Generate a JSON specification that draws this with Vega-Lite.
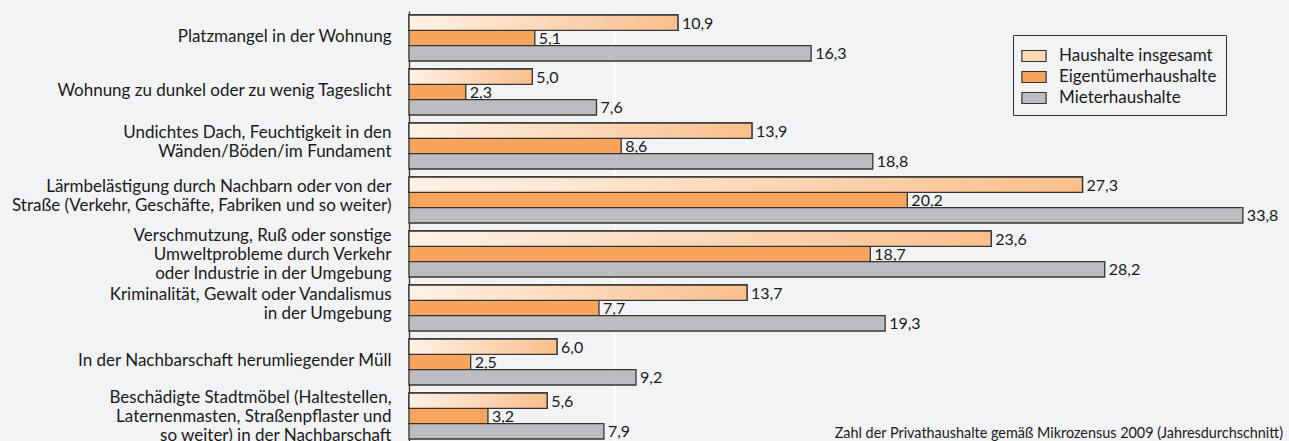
{
  "$schema": "https://vega.github.io/schema/vega-lite/v6.json",
  "autosize": "none",
  "width": 880,
  "height": 432,
  "padding": {"left": 409, "top": 11, "right": 0, "bottom": 0},
  "background": "#f2f3f5",
  "title": {
    "text": "Zahl der Privathaushalte gemäß Mikrozensus 2009 (Jahresdurchschnitt)",
    "orient": "bottom",
    "anchor": "end",
    "frame": "group",
    "offset": -17,
    "dx": -6,
    "font": "Lato",
    "fontSize": 14.4,
    "fontWeight": "normal",
    "color": "#1a1a1a"
  },
  "data": {
    "values": [
      {"cat": "Platzmangel in der Wohnung", "s": "Haushalte insgesamt", "v": 10.9},
      {"cat": "Platzmangel in der Wohnung", "s": "Eigentümerhaushalte", "v": 5.1},
      {"cat": "Platzmangel in der Wohnung", "s": "Mieterhaushalte", "v": 16.3},
      {"cat": "Wohnung zu dunkel oder zu wenig Tageslicht", "s": "Haushalte insgesamt", "v": 5.0},
      {"cat": "Wohnung zu dunkel oder zu wenig Tageslicht", "s": "Eigentümerhaushalte", "v": 2.3},
      {"cat": "Wohnung zu dunkel oder zu wenig Tageslicht", "s": "Mieterhaushalte", "v": 7.6},
      {"cat": "Undichtes Dach, Feuchtigkeit in den|Wänden/Böden/im Fundament", "s": "Haushalte insgesamt", "v": 13.9},
      {"cat": "Undichtes Dach, Feuchtigkeit in den|Wänden/Böden/im Fundament", "s": "Eigentümerhaushalte", "v": 8.6},
      {"cat": "Undichtes Dach, Feuchtigkeit in den|Wänden/Böden/im Fundament", "s": "Mieterhaushalte", "v": 18.8},
      {"cat": "Lärmbelästigung durch Nachbarn oder von der|Straße (Verkehr, Geschäfte, Fabriken und so weiter)", "s": "Haushalte insgesamt", "v": 27.3},
      {"cat": "Lärmbelästigung durch Nachbarn oder von der|Straße (Verkehr, Geschäfte, Fabriken und so weiter)", "s": "Eigentümerhaushalte", "v": 20.2},
      {"cat": "Lärmbelästigung durch Nachbarn oder von der|Straße (Verkehr, Geschäfte, Fabriken und so weiter)", "s": "Mieterhaushalte", "v": 33.8},
      {"cat": "Verschmutzung, Ruß oder sonstige|Umweltprobleme durch Verkehr|oder Industrie in der Umgebung", "s": "Haushalte insgesamt", "v": 23.6},
      {"cat": "Verschmutzung, Ruß oder sonstige|Umweltprobleme durch Verkehr|oder Industrie in der Umgebung", "s": "Eigentümerhaushalte", "v": 18.7},
      {"cat": "Verschmutzung, Ruß oder sonstige|Umweltprobleme durch Verkehr|oder Industrie in der Umgebung", "s": "Mieterhaushalte", "v": 28.2},
      {"cat": "Kriminalität, Gewalt oder Vandalismus|in der Umgebung", "s": "Haushalte insgesamt", "v": 13.7},
      {"cat": "Kriminalität, Gewalt oder Vandalismus|in der Umgebung", "s": "Eigentümerhaushalte", "v": 7.7},
      {"cat": "Kriminalität, Gewalt oder Vandalismus|in der Umgebung", "s": "Mieterhaushalte", "v": 19.3},
      {"cat": "In der Nachbarschaft herumliegender Müll", "s": "Haushalte insgesamt", "v": 6.0},
      {"cat": "In der Nachbarschaft herumliegender Müll", "s": "Eigentümerhaushalte", "v": 2.5},
      {"cat": "In der Nachbarschaft herumliegender Müll", "s": "Mieterhaushalte", "v": 9.2},
      {"cat": "Beschädigte Stadtmöbel (Haltestellen,|Laternenmasten, Straßenpflaster und|so weiter) in der Nachbarschaft", "s": "Haushalte insgesamt", "v": 5.6},
      {"cat": "Beschädigte Stadtmöbel (Haltestellen,|Laternenmasten, Straßenpflaster und|so weiter) in der Nachbarschaft", "s": "Eigentümerhaushalte", "v": 3.2},
      {"cat": "Beschädigte Stadtmöbel (Haltestellen,|Laternenmasten, Straßenpflaster und|so weiter) in der Nachbarschaft", "s": "Mieterhaushalte", "v": 7.9}
    ]
  },
  "transform": [
    {"calculate": "replace(format(datum.v, '.1f'), '.', ',')", "as": "lbl"}
  ],
  "encoding": {
    "y": {
      "field": "cat",
      "type": "nominal",
      "sort": null,
      "scale": {"paddingInner": 0.148, "paddingOuter": 0.074},
      "axis": {
        "title": null,
        "domainColor": "#333333",
        "domainWidth": 1.3,
        "ticks": false,
        "labelExpr": "split(datum.label, '|')",
        "labelFont": "Lato",
        "labelFontSize": 17,
        "labelColor": "#1a1a1a",
        "labelLineHeight": 19,
        "labelPadding": 18,
        "labelLimit": 0,
        "labelOffset": {
          "condition": [
            {"test": "length(split(datum.value, '|')) == 3", "value": -18},
            {"test": "length(split(datum.value, '|')) == 2", "value": -13}
          ],
          "value": -1
        }
      }
    },
    "yOffset": {
      "field": "s",
      "type": "nominal",
      "scale": {"domain": ["Haushalte insgesamt", "Eigentümerhaushalte", "Mieterhaushalte"], "paddingInner": 0, "paddingOuter": 0}
    },
    "x": {
      "field": "v",
      "type": "quantitative",
      "scale": {"domain": [0, 35.67], "nice": false, "zero": true},
      "axis": {
        "title": null,
        "labels": false,
        "ticks": false,
        "domain": false,
        "values": [8.3],
        "grid": true,
        "gridColor": "#ffffff",
        "gridWidth": 2
      }
    }
  },
  "layer": [
    {
      "mark": {"type": "bar", "stroke": "#353535", "strokeWidth": 1.3},
      "encoding": {
        "color": {
          "field": "s",
          "type": "nominal",
          "scale": {
            "domain": ["Haushalte insgesamt", "Eigentümerhaushalte", "Mieterhaushalte"],
            "range": ["#fdd6b4", "#f7a45c", "#bcbdc1"]
          },
          "legend": {
            "title": null,
            "orient": "none",
            "legendX": 604,
            "legendY": 24,
            "direction": "vertical",
            "strokeColor": "#333333",
            "fillColor": "#f2f3f5",
            "padding": 9,
            "symbolType": "M-1.1,-0.5H1.1V0.5H-1.1Z",
            "symbolSize": 484,
            "symbolStrokeColor": "#333333",
            "symbolStrokeWidth": 1.2,
            "symbolOpacity": 1,
            "labelFont": "Lato",
            "labelFontSize": 17,
            "labelColor": "#1a1a1a",
            "labelOffset": 13,
            "rowPadding": 1
          }
        }
      }
    },
    {
      "transform": [{"filter": "datum.s === 'Haushalte insgesamt'"}],
      "mark": {
        "type": "bar",
        "stroke": "#353535",
        "strokeWidth": 1.3,
        "fill": {
          "gradient": "linear",
          "x1": 0, "y1": 0, "x2": 1, "y2": 0,
          "stops": [
            {"offset": 0, "color": "#fff2e6"},
            {"offset": 1, "color": "#f9bf8c"}
          ]
        }
      }
    },
    {
      "mark": {"type": "text", "align": "left", "baseline": "middle", "dx": 4, "dy": 1, "font": "Lato", "fontSize": 16, "color": "#1a1a1a"},
      "encoding": {"text": {"field": "lbl"}}
    }
  ],
  "config": {
    "view": {"stroke": null}
  }
}
